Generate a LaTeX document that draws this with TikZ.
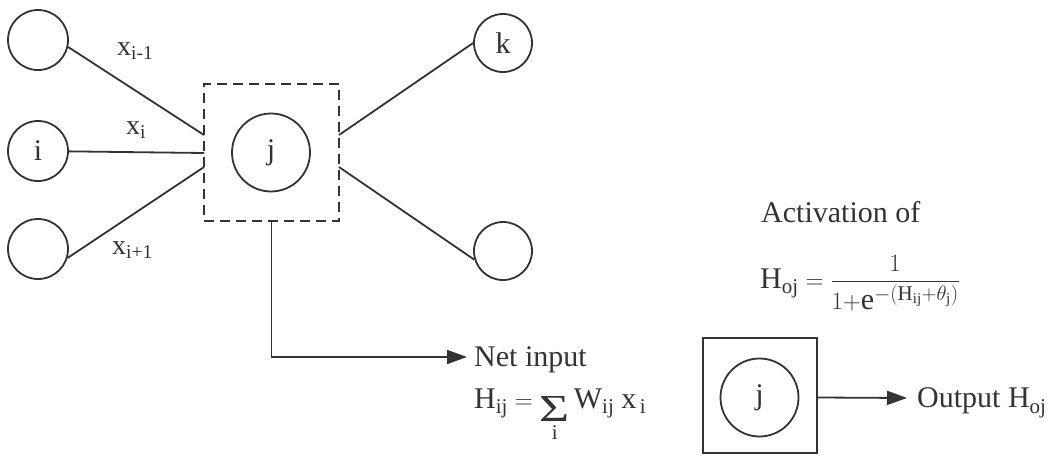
\documentclass[tikz,border=0pt]{standalone}
\usepackage{amsmath}
\usepackage{graphicx}
\usepackage{fontspec}
\setmainfont{Liberation Serif}
\usetikzlibrary{arrows.meta}
\definecolor{ink}{HTML}{333333}
\newcommand{\bigsigma}{\mathop{\lower13pt\hbox{\resizebox{30pt}{25pt}{\fontsize{40}{40}\selectfont Σ}}}}
\begin{document}
\begin{tikzpicture}[x=1pt,y=-1pt,
  every node/.style={text=ink},
  neuron/.style={draw=ink,circle,line width=1.8pt,inner sep=0pt,font=\fontsize{30}{36}\selectfont},
  wire/.style={draw=ink,line width=1.8pt},
  arr/.style={draw=ink,line width=1.8pt,-{Triangle[length=20pt,width=14pt]}},
  txt/.style={inner sep=0pt,font=\fontsize{30}{36}\selectfont},
  lbl/.style={inner sep=0pt,font=\fontsize{28}{34}\selectfont}]
\useasboundingbox[fill=white] (0,0) rectangle (1061,455);
% input neurons
\node[neuron,minimum size=60pt] (a1) at (38,40) {};
\node[neuron,minimum size=60pt] (a2) at (38,151) {i};
\node[neuron,minimum size=60pt] (a3) at (38,249) {};
% hidden neuron in dashed box
\node[draw=ink,dash pattern=on 10pt off 6pt,line width=1.8pt,minimum width=135pt,minimum height=137pt,inner sep=0pt] (jbox) at (271.5,152.5) {};
\node[neuron,minimum size=78pt] (j) at (271,152.5) {j};
% output neurons
\node[neuron,minimum size=58pt] (k) at (503,43) {k};
\node[neuron,minimum size=58pt] (o2) at (503,251) {};
% connection points on the box
\coordinate (inA) at (204,135);
\coordinate (inB) at (204,153);
\coordinate (inC) at (204,167);
\coordinate (outA) at (339,135);
\coordinate (outB) at (339,167);
\draw[wire] (a1.-13) -- (inA);
\draw[wire] (a2) -- (inB);
\draw[wire] (a3.-17) -- (inC);
\draw[wire] (outA) -- (k.west);
\draw[wire] (outB) -- (o2.197);
% weight labels
\node[lbl,anchor=base west] (lx1) at (117,55) {$\mathrm{x}_{\text{i-1}}$};
\node[lbl,anchor=base west] (lx2) at (126,134) {$\mathrm{x}_{\mathrm{i}}$};
\node[lbl,anchor=base west] (lx3) at (112,254) {$\mathrm{x}_{\text{i+1}}$};
% net input
\node[txt,anchor=west,inner xsep=7pt,text depth=0pt] (netin) at (467,357) {Net input};
\draw[arr] (jbox.south) |- (netin.west);
\node[txt,anchor=base west] (sumf) at (474,408) {$\mathrm{H}_{\mathrm{ij}} = \bigsigma\limits_{\mathrm{i}} \mathrm{W}_{\mathrm{ij}}\;\mathrm{x}_{\,\mathrm{i}}$};
% activation
\node[txt,anchor=base west] (act) at (761,222) {Activation of};
\node[txt,anchor=base west] (actf) at (760,288) {$\mathrm{H}_{\mathrm{oj}} = \dfrac{1}{1{+}\mathrm{e}^{-(\mathrm{H}_{\mathrm{ij}}+\theta_{\mathrm{j}})}}$};
% output box
\node[draw=ink,line width=1.8pt,minimum width=114pt,minimum height=115pt,inner sep=0pt] (obox) at (760,395.5) {};
\node[neuron,minimum size=78pt] (oj) at (759.5,397.5) {j};
\node[txt,anchor=west,inner xsep=10pt,text depth=0pt] (outt) at (907,398) {Output $\mathrm{H}_{\mathrm{oj}}$};
\draw[arr] (obox.east |- oj.center) -- (outt.west);
\end{tikzpicture}
\end{document}
